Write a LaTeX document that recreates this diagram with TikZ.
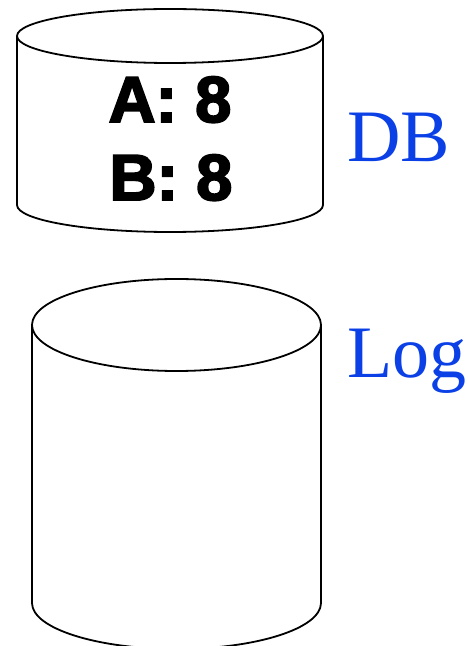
\documentclass[tikz,border=0pt]{standalone}
\usepackage{fontspec}
\setmainfont{Liberation Serif}
\newfontfamily\boldsans{Liberation Sans}[BoldFeatures={FakeBold=3}]
\definecolor{dbblue}{RGB}{10,64,230}
\begin{document}
\begin{tikzpicture}[x=1pt,y=1pt,
  cyl/.style={draw=black,line width=1.8pt,fill=white},
  val/.style={inner sep=0pt,anchor=base,font=\boldsans\bfseries\fontsize{65}{65}\selectfont},
  lbl/.style={inner sep=0pt,anchor=base west,text=dbblue,font=\fontsize{74}{74}\selectfont}]
\useasboundingbox (0,0) rectangle (467,646);
% DB cylinder
\draw[cyl] (17,610) -- (17,441) arc[start angle=180,end angle=360,x radius=153,y radius=27] -- (323,610);
\draw[cyl] (170,610) ellipse[x radius=153,y radius=27];
% Log cylinder
\draw[cyl] (32,321) -- (32,43) arc[start angle=180,end angle=360,x radius=144.5,y radius=46] -- (321,321);
\draw[cyl] (176.5,321) ellipse[x radius=144.5,y radius=46];
% texts
\node[val] (a) at (170,524) {A: 8};
\node[val] (b) at (171,446) {B: 8};
\node[lbl] (db) at (347,484) {DB};
\node[lbl] (log) at (347,268) {Log};
\end{tikzpicture}
\end{document}
